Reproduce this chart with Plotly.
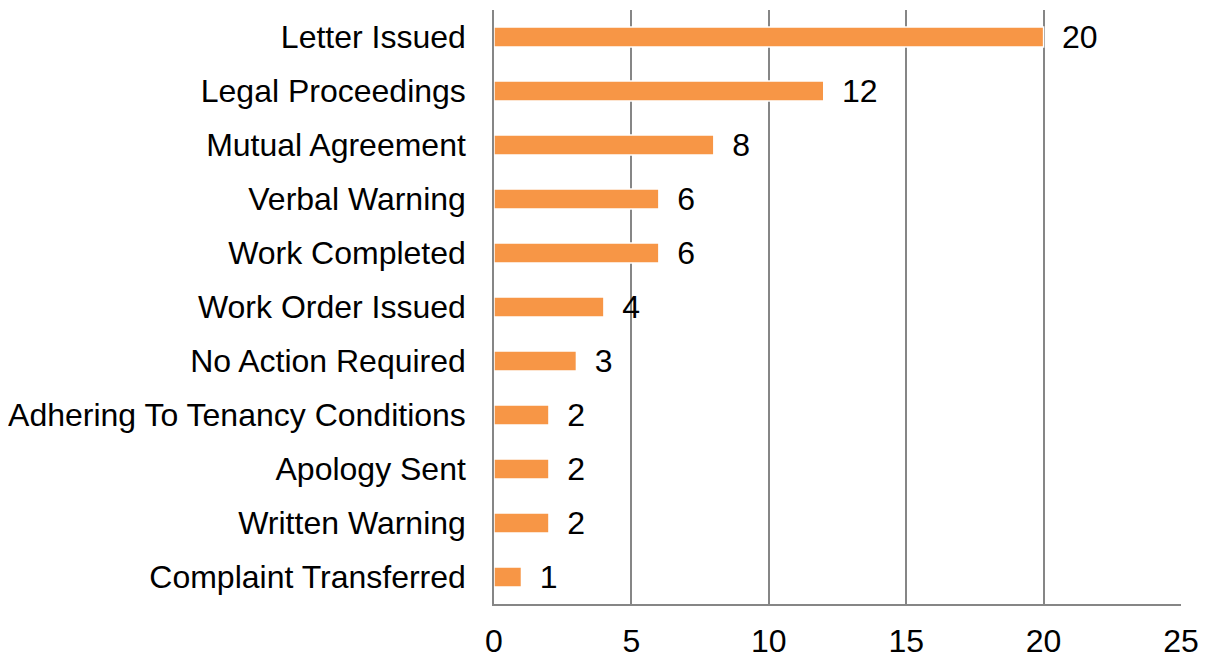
import plotly.graph_objects as go

categories = ["Letter Issued", "Legal Proceedings", "Mutual Agreement", "Verbal Warning",
              "Work Completed", "Work Order Issued", "No Action Required",
              "Adhering To Tenancy Conditions", "Apology Sent", "Written Warning",
              "Complaint Transferred"]
values = [20, 12, 8, 6, 6, 4, 3, 2, 2, 2, 1]
x_ticks = [0, 5, 10, 15, 20, 25]

font_family = "Liberation Sans, Arial, sans-serif"
fs = 32

fig = go.Figure()
fig.add_trace(go.Bar(
    y=categories, x=values, orientation="h",
    marker=dict(color="#F79646", line=dict(color="#FFFFFF", width=1.5)),
    text=values, texttemplate=" \u2009%{x}", textposition="outside",
    constraintext="none",
    textfont=dict(size=fs, color="#000000", family=font_family),
    cliponaxis=False,
))
fig.update_layout(
    width=1201, height=651,
    margin=dict(l=486, r=28, t=2, b=55, autoexpand=False),
    plot_bgcolor="white", paper_bgcolor="white",
    bargap=0.63, showlegend=False,
    font=dict(family=font_family, size=fs, color="#000000"),
)
fig.update_xaxes(
    range=[0, 25], tickvals=x_ticks, showgrid=True, gridcolor="#868686", gridwidth=1.5,
    showline=True, linecolor="#868686", linewidth=1.5, mirror=False,
    ticks="outside", ticklen=8, tickcolor="rgba(0,0,0,0)", automargin=False,
    tickfont=dict(size=fs, family=font_family, color="#000000"), zeroline=False,
)
fig.update_yaxes(
    categoryorder="array", categoryarray=categories[::-1], autorange=True,
    showline=True, linecolor="#868686", linewidth=1.5, showgrid=False,
    ticks="outside", ticklen=20, tickcolor="rgba(0,0,0,0)", automargin=False,
    tickfont=dict(size=fs, family=font_family, color="#000000"),
)
fig.write_html("out.html")
